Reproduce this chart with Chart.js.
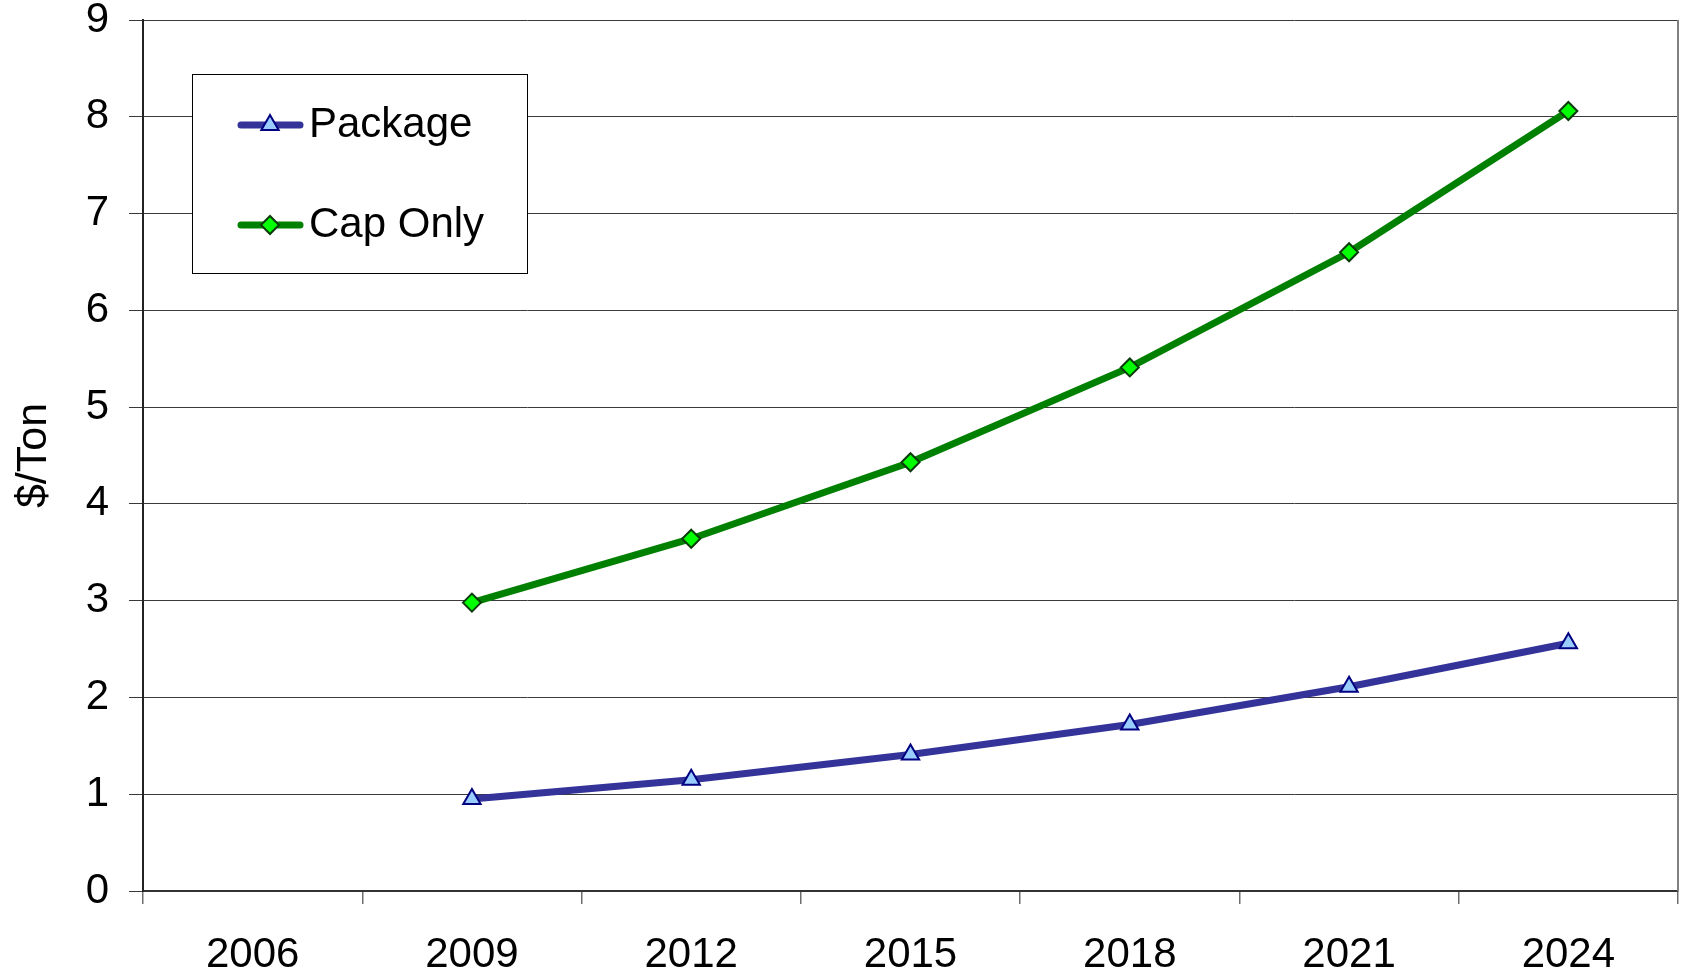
<!DOCTYPE html>
<html>
<head>
<meta charset="utf-8">
<script src="https://cdn.jsdelivr.net/npm/chart.js@4"></script>
<style>
  html, body { margin: 0; padding: 0; background: #fff; overflow: hidden; }
  #wrap { width: 1681px; height: 973px; }
  canvas { display: block; }
</style>
</head>
<body>
<div id="wrap"><canvas id="c" width="1681" height="973"></canvas></div>
<script>
const categories = ['2006', '2009', '2012', '2015', '2018', '2021', '2024'];
const packageValues = [null, 0.95, 1.15, 1.41, 1.72, 2.11, 2.56];
const capOnlyValues = [null, 2.98, 3.64, 4.43, 5.41, 6.60, 8.06];
const yTicks = [0, 1, 2, 3, 4, 5, 6, 7, 8, 9];
const seriesNames = ['Package', 'Cap Only'];
const yTitle = '$/Ton';

const FONT = "'Liberation Sans', Arial, sans-serif";

const frame = {
  id: 'frame',
  afterDraw(chart) {
    const { ctx, chartArea: a } = chart;
    ctx.save();
    ctx.strokeStyle = '#808080';
    ctx.lineWidth = 2;
    ctx.beginPath();
    ctx.moveTo(a.right, a.top);
    ctx.lineTo(a.right, a.bottom);
    ctx.stroke();
    ctx.restore();
  }
};

const boxLegend = {
  id: 'boxLegend',
  afterDraw(chart) {
    const { ctx } = chart;
    const x0 = 192.5, y0 = 74.5, w = 335, h = 199;
    ctx.save();
    ctx.fillStyle = '#fff';
    ctx.fillRect(x0, y0, w, h);
    ctx.strokeStyle = '#000';
    ctx.lineWidth = 1;
    ctx.strokeRect(x0, y0, w, h);
    const rows = [125, 225];
    chart.data.datasets.forEach((ds, i) => {
      const y = rows[i];
      ctx.strokeStyle = ds.borderColor;
      ctx.lineWidth = ds.borderWidth;
      ctx.lineCap = 'round';
      ctx.beginPath();
      ctx.moveTo(241, y);
      ctx.lineTo(300, y);
      ctx.stroke();
      ctx.fillStyle = ds.pointBackgroundColor;
      ctx.strokeStyle = ds.pointBorderColor;
      ctx.lineWidth = ds.pointBorderWidth;
      Chart.helpers.drawPoint(ctx, {
        pointStyle: ds.pointStyle,
        radius: ds.pointRadius,
        borderWidth: ds.pointBorderWidth,
        rotation: 0
      }, 270, y);
      ctx.fillStyle = '#000';
      ctx.font = '42px ' + FONT;
      ctx.textBaseline = 'middle';
      ctx.textAlign = 'left';
      ctx.fillText(ds.label, 309, y);
    });
    ctx.restore();
  }
};

new Chart(document.getElementById('c'), {
  type: 'line',
  data: {
    labels: categories,
    datasets: [
      {
        label: seriesNames[0],
        data: packageValues,
        borderColor: '#333399',
        borderWidth: 7,
        pointStyle: 'triangle',
        pointRadius: 10,
        pointBackgroundColor: '#99ccff',
        pointBorderColor: '#000080',
        pointBorderWidth: 2,
        tension: 0
      },
      {
        label: seriesNames[1],
        data: capOnlyValues,
        borderColor: '#008000',
        borderWidth: 7,
        pointStyle: 'rectRot',
        pointRadius: 9,
        pointBackgroundColor: '#00ff00',
        pointBorderColor: '#0b3b0b',
        pointBorderWidth: 2,
        tension: 0
      }
    ]
  },
  options: {
    responsive: false,
    animation: false,
    layout: { autoPadding: false, padding: { top: 20, right: 3, left: 0, bottom: 0 } },
    plugins: {
      legend: { display: false },
      tooltip: { enabled: false }
    },
    scales: {
      x: {
        type: 'category',
        offset: true,
        grid: {
          offset: true,
          drawOnChartArea: false,
          drawTicks: true,
          tickLength: 13,
          color: '#6e6e6e',
          lineWidth: 1.5
        },
        border: { color: '#333', width: 2 },
        ticks: {
          color: '#000',
          font: { family: FONT, size: 42 },
          padding: 26,
          maxRotation: 0,
          autoSkip: false
        },
        afterFit(scale) {
          scale.height = 82;
          scale.paddingLeft = 0; scale.paddingRight = 0;
          scale.paddingTop = 0; scale.paddingBottom = 0;
        }
      },
      y: {
        min: 0,
        max: 9,
        afterBuildTicks(scale) { scale.ticks = yTicks.map(v => ({ value: v })); },
        grid: {
          color: '#3a3a3a',
          lineWidth: 1,
          drawTicks: true,
          tickLength: 14
        },
        border: { color: '#222', width: 2 },
        ticks: {
          color: '#000',
          font: { family: FONT, size: 42 },
          padding: 20
        },
        title: {
          display: true,
          text: yTitle,
          color: '#000',
          font: { family: FONT, size: 43 },
          padding: { top: 8, bottom: 0 }
        },
        afterFit(scale) {
          scale.width = 143;
          scale.paddingLeft = 0; scale.paddingRight = 0;
          scale.paddingTop = 0; scale.paddingBottom = 0;
        }
      }
    }
  },
  plugins: [frame, boxLegend]
});
</script>
</body>
</html>
